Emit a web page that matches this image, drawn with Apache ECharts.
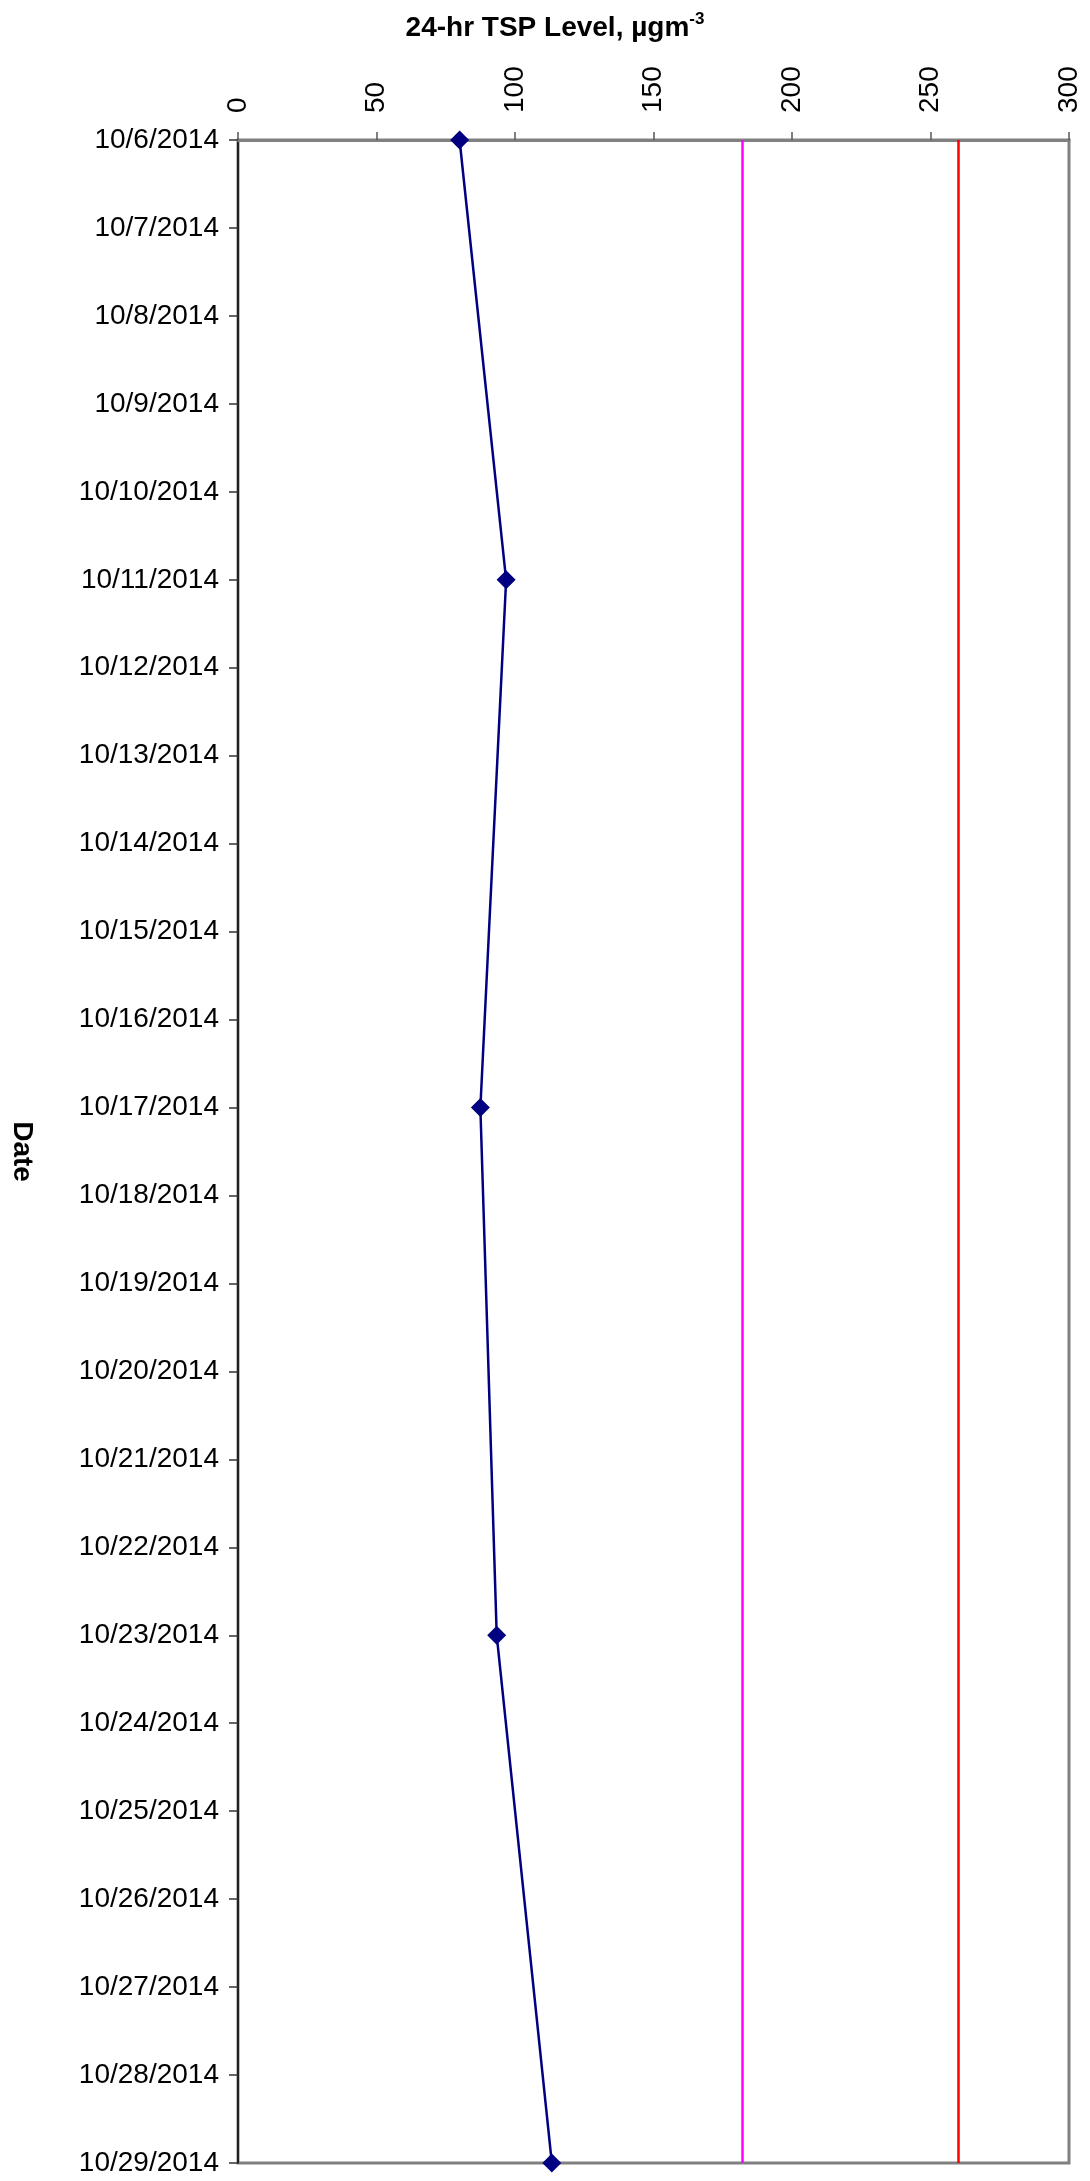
<!DOCTYPE html>
<html>
<head>
<meta charset="utf-8">
<script src="https://cdn.jsdelivr.net/npm/echarts@6/dist/echarts.min.js"></script>
<style>
html,body{margin:0;padding:0;background:#fff;}
#chart{width:1090px;height:2181px;}
</style>
</head>
<body>
<div id="chart"></div>
<script>
const dates = ['10/6/2014','10/7/2014','10/8/2014','10/9/2014','10/10/2014','10/11/2014','10/12/2014','10/13/2014','10/14/2014','10/15/2014','10/16/2014','10/17/2014','10/18/2014','10/19/2014','10/20/2014','10/21/2014','10/22/2014','10/23/2014','10/24/2014','10/25/2014','10/26/2014','10/27/2014','10/28/2014','10/29/2014'];
const tspValues = [80,null,null,null,null,96.8,null,null,null,null,null,87.5,null,null,null,null,null,93.4,null,null,null,null,null,113.3];
const limitLow = 182;
const limitHigh = 260;
const valueMin = 0, valueMax = 300, valueInterval = 50;

const FONT = '"Liberation Sans", Arial, sans-serif';
const chart = echarts.init(document.getElementById('chart'));
chart.setOption({
  backgroundColor: '#ffffff',
  animation: false,
  title: {
    text: '{a|24-hr TSP Level, µgm}{b|-3}',
    left: 550,
    top: 6,
    textAlign: 'center',
    textStyle: {
      rich: {
        a: {fontFamily: FONT, fontSize: 28, fontWeight: 'bold', color: '#000', lineHeight: 34},
        b: {fontFamily: FONT, fontSize: 17, fontWeight: 'bold', color: '#000', verticalAlign: 'top', lineHeight: 34, padding: [0,0,12,0]}
      }
    }
  },
  grid: {
    left: 208, right: 21, top: 140, bottom: 18,
    show: true, borderColor: '#808080', borderWidth: 3, backgroundColor: '#fff'
  },
  xAxis: {
    type: 'value',
    position: 'top',
    min: valueMin, max: valueMax, interval: valueInterval,
    axisLine: {show: true, lineStyle: {color: '#808080', width: 3}},
    axisTick: {show: true, length: 8, lineStyle: {color: '#555', width: 1.5}},
    splitLine: {show: false},
    axisLabel: {rotate: -90, margin: 27, fontSize: 28, fontFamily: FONT, color: '#000'}
  },
  yAxis: {
    type: 'category',
    data: dates,
    inverse: true,
    boundaryGap: false,
    name: 'Date',
    nameLocation: 'middle',
    nameRotate: -90,
    nameGap: 202,
    nameTextStyle: {fontFamily: FONT, fontSize: 28, fontWeight: 'bold', color: '#000'},
    axisLine: {show: true, lineStyle: {color: '#000', width: 1.5}},
    axisTick: {show: true, length: 9, interval: 0, lineStyle: {color: '#333', width: 1.5}},
    splitLine: {show: false},
    axisLabel: {interval: 0, margin: 19, fontSize: 28, fontFamily: FONT, color: '#000'}
  },
  series: [{
    type: 'line',
    data: tspValues,
    connectNulls: true,
    symbol: 'diamond',
    symbolSize: 19,
    itemStyle: {color: '#000080'},
    lineStyle: {color: '#000080', width: 2.5},
    z: 5,
    markLine: {
      silent: true,
      symbol: ['none','none'],
      label: {show: false},
      animation: false,
      data: [
        {xAxis: limitLow, lineStyle: {color: '#FF00FF', width: 2.5, type: 'solid'}},
        {xAxis: limitHigh, lineStyle: {color: '#FF0000', width: 2.5, type: 'solid'}}
      ]
    }
  }]
});
</script>
</body>
</html>
